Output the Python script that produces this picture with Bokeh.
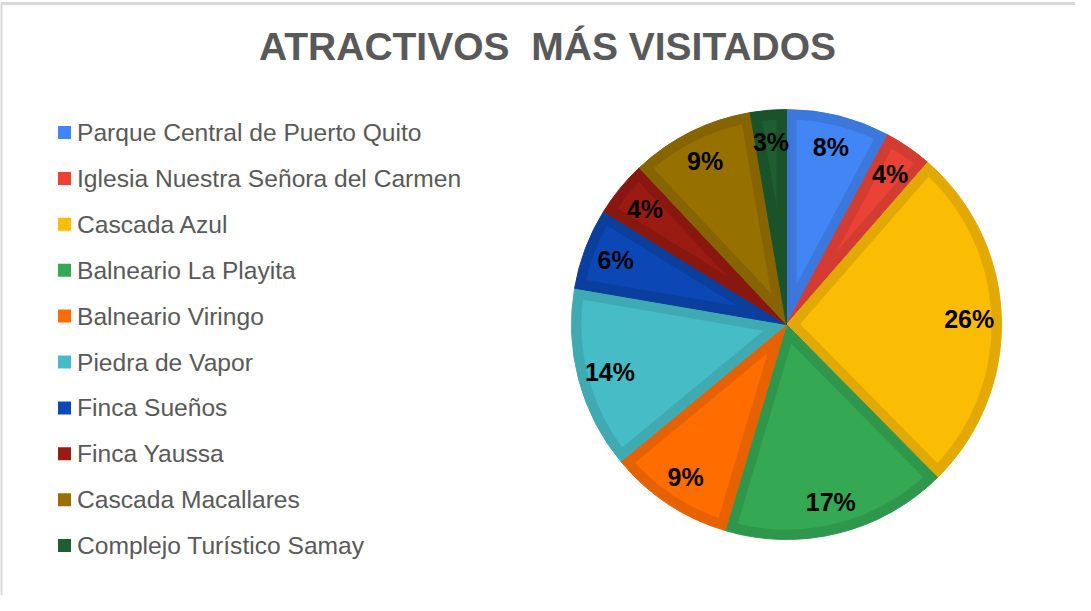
import numpy as np
from bokeh.plotting import figure
from bokeh.models import ColumnDataSource
from bokeh.core.properties import value
from bokeh.embed import file_html
from bokeh.resources import INLINE

# ---- data ----
title_text = "ATRACTIVOS\u00a0 MÁS VISITADOS"
categories = [
    "Parque Central de Puerto Quito",
    "Iglesia Nuestra Señora del Carmen",
    "Cascada Azul",
    "Balneario La Playita",
    "Balneario Viringo",
    "Piedra de Vapor",
    "Finca Sueños",
    "Finca Yaussa",
    "Cascada Macallares",
    "Complejo Turístico Samay",
]
shares = [7.8, 3.6, 26.2, 17.0, 9.4, 13.7, 6.1, 4.2, 9.3, 2.7]

# ---- styles ----
fill_colors = ["#4285F4", "#EA4335", "#FBBC04", "#34A853", "#FF6D01",
               "#46BDC6", "#0C48B5", "#9A1B11", "#977100", "#1E5E30"]
edge_colors = ["#3C78DC", "#D33C30", "#E2A904", "#2F974B", "#E66201",
               "#3FAAB2", "#0A3F9E", "#88170F", "#866400", "#1A532A"]
FONT = "Liberation Sans"

W, H = 1075, 595
cx, cy, R = 786.0, 271.0, 215.0
T = 10.0  # inner border thickness

p = figure(width=W, height=H, x_range=(0, W), y_range=(0, H),
           x_axis_type=None, y_axis_type=None, output_backend="svg",
           toolbar_location=None, min_border=0)
p.outline_line_color = None
p.background_fill_color = "white"
p.border_fill_color = "white"

# frame lines (left and top)
p.segment(x0=[0.5, 0], y0=[0, 592], x1=[0.5, W], y1=[592, 592],
          line_color="#d9d9d9", line_width=3)

# ---- pie ----
vals = np.array(shares, dtype=float)
frac = vals / vals.sum()
cum_end = np.cumsum(frac)
cum_start = cum_end - frac
hi = np.pi / 2 - cum_start * 2 * np.pi
lo = np.pi / 2 - cum_end * 2 * np.pi

src = ColumnDataSource(dict(start=lo, end=hi, fill=fill_colors, edge=edge_colors))
p.wedge(x=cx, y=cy, radius=R, start_angle="start", end_angle="end",
        fill_color="edge", line_color="edge", line_width=1, source=src)

xs, ys = [], []
Ri = R - T
for a0, a1 in zip(lo, hi):
    half = (a1 - a0) / 2
    mid = (a0 + a1) / 2
    apex_d = T / np.sin(half)
    s = np.sqrt(Ri ** 2 - T ** 2)
    eps = np.arctan2(T, s)
    arc = np.linspace(a0 + eps, a1 - eps, 60)
    px = [cx + apex_d * np.cos(mid)] + list(cx + Ri * np.cos(arc))
    py = [cy + apex_d * np.sin(mid)] + list(cy + Ri * np.sin(arc))
    xs.append(px)
    ys.append(py)
p.patches(xs=xs, ys=ys, fill_color=fill_colors, line_color=None)

# percentage labels
mid = (lo + hi) / 2
lr = 0.85 * R
pct = [f"{int(round(v))}%" for v in frac * 100]
p.text(x=cx + lr * np.cos(mid), y=cy + lr * np.sin(mid), text=pct,
       text_align="center", text_baseline="middle",
       text_font=value(FONT), text_font_style="bold",
       text_font_size="25px", text_color="#000000")

# ---- title ----
p.text(x=[547], y=[549], text=[title_text], text_align="center",
       text_baseline="middle", text_font=value(FONT),
       text_font_style="bold", text_font_size="39px", text_color="#595959")

# ---- legend ----
n = len(categories)
idx = np.arange(n)
row_y = 463.0 - 45.9 * idx
p.rect(x=[64.0] * n, y=row_y, width=13, height=13,
       fill_color=fill_colors, line_color=None)
p.text(x=[76.5] * n, y=row_y, text=categories, text_align="left",
       text_baseline="middle", text_font=value(FONT),
       text_font_size="24.6px", text_color="#595959")

open("out.html", "w").write(file_html(p, INLINE))
